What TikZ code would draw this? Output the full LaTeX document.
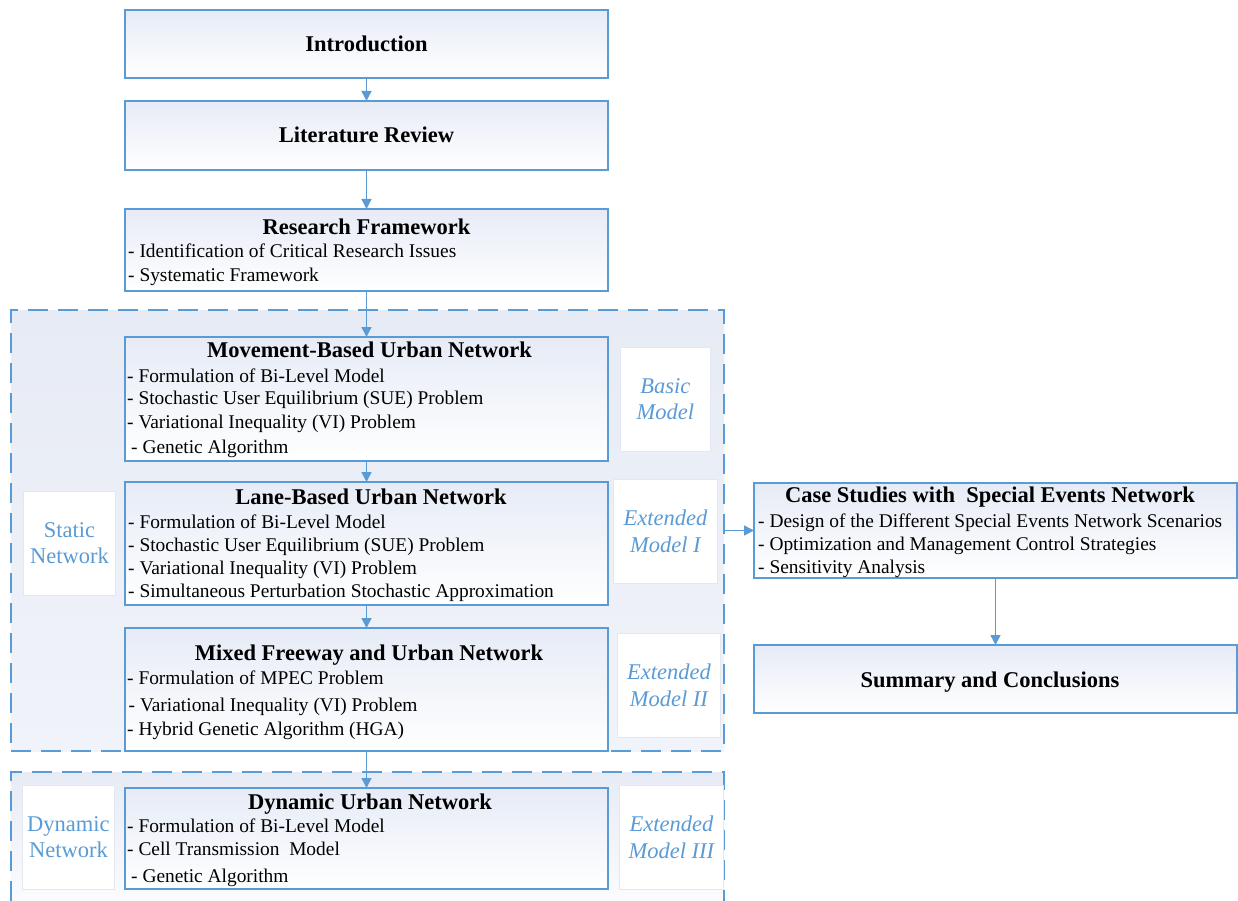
\documentclass[tikz,border=0pt]{standalone}
\usepackage{fontspec}
\setmainfont{Liberation Serif}
\usetikzlibrary{arrows.meta}

\definecolor{edge}{RGB}{91,155,213}
\definecolor{boxtop}{RGB}{230,235,246}
\definecolor{paneltop}{RGB}{231,235,245}
\definecolor{panelbot}{RGB}{240,243,249}
\definecolor{tagline}{RGB}{226,231,240}

\tikzset{
  stage/.style={draw=edge, line width=1.2pt, top color=boxtop, bottom color=white,
    inner sep=0pt, outer sep=0pt, anchor=north west},
  heading/.style={font=\fontsize{22.5}{27}\selectfont\bfseries, anchor=base, inner sep=0pt},
  item/.style={font=\fontsize{19.4}{23}\selectfont, anchor=base west, inner sep=0pt},
  tag/.style={fill=white, draw=tagline, line width=0.8pt, text=edge, align=center,
    font=\fontsize{22.5}{26.5}\selectfont, inner sep=0pt, anchor=north west},
  flow/.style={draw=edge, line width=1.5pt, -{Triangle[length=10pt,width=10pt]}},
  panel/.style={draw=edge, line width=1.3pt, dash pattern=on 20pt off 10pt}
}

\begin{document}
\begin{tikzpicture}[x=1pt, y=-1pt]
\useasboundingbox (0,0) rectangle (1238,901);

% grouping panels
\node[panel, top color=paneltop, bottom color=panelbot, inner sep=0pt, outer sep=0pt,
      anchor=north west, minimum width=713, minimum height=441] (staticpanel) at (11,310) {};
\shade[top color=paneltop, bottom color=white!70!panelbot] (11,772) rectangle (724,901);
\draw[panel] (11,901) -- (11,772) -- (724,772) -- (724,901);

% main stages
\node[stage, minimum width=483, minimum height=68]  (intro) at (125,10)  {};
\node[stage, minimum width=483, minimum height=69]  (lit)   at (125,101) {};
\node[stage, minimum width=483, minimum height=82]  (rf)    at (125,209) {};
\node[stage, minimum width=483, minimum height=124] (move)  at (125,337) {};
\node[stage, minimum width=483, minimum height=123] (lane)  at (125,482) {};
\node[stage, minimum width=483, minimum height=123] (mixed) at (125,628) {};
\node[stage, minimum width=483, minimum height=101] (dyn)   at (125,788) {};
\node[stage, minimum width=483, minimum height=95]  (case)  at (754,483) {};
\node[stage, minimum width=483, minimum height=68]  (summ)  at (754,645) {};

% side tags
\node[tag, minimum width=90,  minimum height=104] (tbasic) at (620,347) {\itshape Basic\\\itshape Model};
\node[tag, minimum width=104, minimum height=104] (text1)  at (613,479) {\itshape Extended\\\itshape Model I};
\node[tag, minimum width=103, minimum height=104] (text2)  at (617,633) {\itshape Extended\\\itshape Model II};
\node[tag, minimum width=104, minimum height=104] (text3)  at (619,785) {\itshape Extended\\\itshape Model III};
\node[tag, minimum width=92,  minimum height=104] (tstat)  at (23,491)  {Static\\Network};
\node[tag, minimum width=92,  minimum height=104] (tdyn)   at (22,785)  {Dynamic\\Network};

% stage texts
\node[heading] (introT) at (366.5,51.5) {Introduction};
\node[heading] (litT)   at (366.5,143)  {Literature Review};

\node[heading] (rfT) at (366.5,234) {Research Framework};
\node[item] (rf1) at (128,257.5) {- Identification of Critical Research Issues};
\node[item] (rf2) at (128,281.5) {- Systematic Framework};

\node[heading] (moveT) at (369.5,357) {Movement-Based Urban Network};
\node[item] (move1) at (127,382)   {- Formulation of Bi-Level Model};
\node[item] (move2) at (127,404.5) {- Stochastic User Equilibrium (SUE) Problem};
\node[item] (move3) at (127,428)   {- Variational Inequality (VI) Problem};
\node[item] (move4) at (131,453)   {- Genetic Algorithm};

\node[heading] (laneT) at (371,504) {Lane-Based Urban Network};
\node[item] (lane1) at (128,528.5) {- Formulation of Bi-Level Model};
\node[item] (lane2) at (128,551.5) {- Stochastic User Equilibrium (SUE) Problem};
\node[item] (lane3) at (128,574.5) {- Variational Inequality (VI) Problem};
\node[item] (lane4) at (128,597.5) {- Simultaneous Perturbation Stochastic Approximation};

\node[heading] (mixedT) at (369,660) {Mixed Freeway and Urban Network};
\node[item] (mixed1) at (127,684.5) {- Formulation of MPEC Problem};
\node[item] (mixed2) at (128.5,711.5) {- Variational Inequality (VI) Problem};
\node[item] (mixed3) at (127,735.5) {- Hybrid Genetic Algorithm (HGA)};

\node[heading] (dynT) at (370,809) {Dynamic Urban Network};
\node[item] (dyn1) at (127,832.5) {- Formulation of Bi-Level Model};
\node[item] (dyn2) at (127,855.5) {- Cell Transmission\ \ Model};
\node[item] (dyn3) at (131,882.5) {- Genetic Algorithm};

\node[heading] (caseT) at (990,502) {Case Studies with\ \ Special Events Network};
\node[item] (case1) at (758,527.5) {- Design of the Different Special Events Network Scenarios};
\node[item] (case2) at (758,550.5) {- Optimization and Management Control Strategies};
\node[item] (case3) at (758,573.5) {- Sensitivity Analysis};

\node[heading] (summT) at (990,687) {Summary and Conclusions};

% connectors
\draw[flow] (intro.south) -- (lit.north);
\draw[flow] (lit.south) -- (rf.north);
\draw[flow] (rf.south) -- (move.north);
\draw[flow] (move.south) -- (lane.north);
\draw[flow] (lane.south) -- (mixed.north);
\draw[flow] (mixed.south) -- (dyn.north);
\draw[flow] (staticpanel.east |- case.west) -- (case.west);
\draw[flow] (case.south -| summ.north) -- (summ.north);
\end{tikzpicture}
\end{document}
